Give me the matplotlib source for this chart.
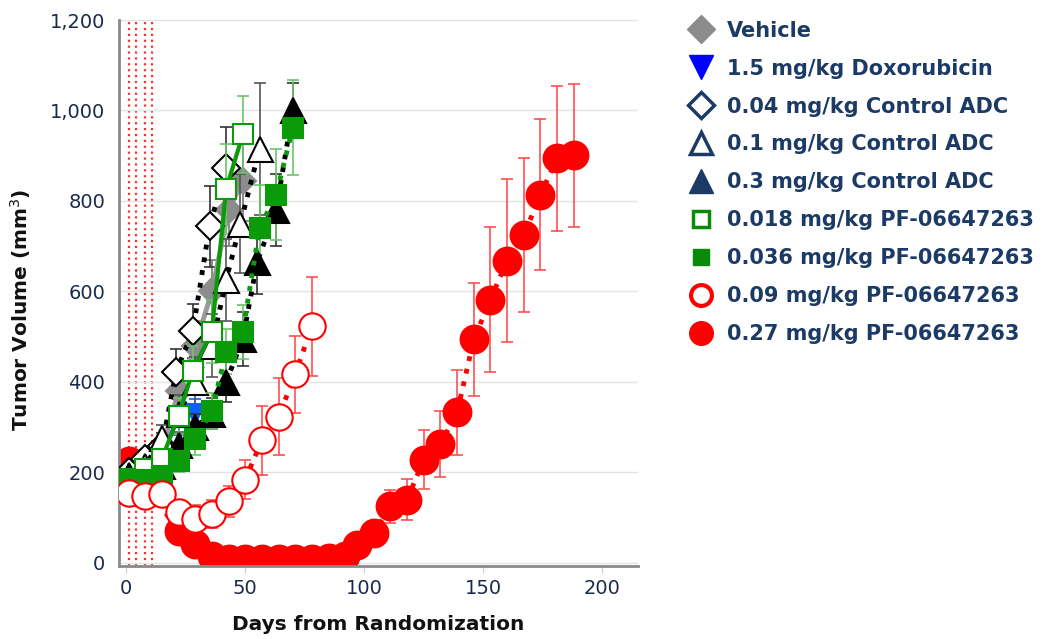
import numpy as np
import matplotlib
matplotlib.use('Agg')
import matplotlib.pyplot as plt
from matplotlib.lines import Line2D

# ============================================================
# DATA
# ============================================================
dose_days = [1, 4, 8, 11]

veh_days = [1, 8, 15, 22, 29, 36, 43, 49]
veh_vol = [190, 210, 250, 380, 480, 600, 780, 845]
veh_err = [15, 20, 30, 45, 55, 70, 80, 90]

dox_days = [1, 8, 15, 22, 29]
dox_vol = [190, 205, 240, 322, 328]
dox_err = [15, 20, 25, 40, 35]

c004_days = [1, 8, 15, 21, 28, 35, 42]
c004_vol = [200, 230, 258, 423, 512, 744, 873]
c004_err = [15, 20, 30, 50, 60, 90, 90]

c01_days = [1, 8, 15, 22, 29, 36, 42, 48, 56]
c01_vol = [195, 215, 275, 330, 400, 480, 625, 750, 915]
c01_err = [15, 20, 30, 40, 55, 70, 90, 110, 145]

c03_days = [1, 8, 15, 22, 29, 36, 42, 49, 55, 63, 70]
c03_vol = [190, 200, 215, 260, 300, 330, 400, 495, 665, 780, 1000]
c03_err = [15, 15, 20, 25, 30, 35, 45, 60, 70, 80, 60]

pf018_days = [1, 8, 15, 22, 28, 36, 42, 49]
pf018_vol = [185, 207, 230, 325, 425, 511, 827, 947]
pf018_err = [15, 20, 25, 40, 55, 70, 100, 85]

pf036_days = [1, 8, 15, 22, 29, 36, 42, 49, 56, 63, 70]
pf036_vol = [184, 184, 192, 225, 273, 336, 467, 511, 740, 814, 962]
pf036_err = [15, 15, 20, 25, 35, 40, 50, 60, 95, 100, 105]

pf09_days = [1, 8, 15, 22, 29, 36, 43, 50, 57, 64, 71, 78]
pf09_vol = [155, 148, 153, 112, 98, 108, 136, 184, 271, 323, 417, 523]
pf09_err = [15, 15, 20, 25, 30, 30, 35, 43, 76, 85, 85, 110]

pf27_days = [1, 22, 29, 36, 43, 50, 57, 64, 71, 78, 85, 92, 97, 104, 111,
             118, 125, 132, 139, 146, 153, 160, 167, 174, 181, 188]
pf27_vol = [225, 70, 42, 15, 8, 8, 8, 8, 8, 8, 10, 15, 40, 65, 125,
            140, 228, 263, 333, 494, 582, 668, 724, 814, 894, 901]
pf27_err = [12, 10, 8, 5, 3, 3, 3, 3, 3, 3, 3, 5, 8, 10, 36,
            45, 65, 73, 94, 125, 160, 180, 170, 167, 160, 158]

labels = ['Vehicle', '1.5 mg/kg Doxorubicin', '0.04 mg/kg Control ADC',
          '0.1 mg/kg Control ADC', '0.3 mg/kg Control ADC',
          '0.018 mg/kg PF-06647263', '0.036 mg/kg PF-06647263',
          '0.09 mg/kg PF-06647263', '0.27 mg/kg PF-06647263']

# ============================================================
# FIGURE
# ============================================================
plt.rcParams['font.family'] = ['DejaVu Sans']
fig = plt.figure(figsize=(10.46, 6.39), dpi=100)
ax = fig.add_axes([0.1138, 0.1142, 0.4962, 0.8545])

navy = '#1c3a66'
green = '#0a9a0a'
red = '#ff0000'


def series(x, y, e, zo, marker, ms, mfc, mec, ls, lc, lw, ecol, mew=1.5):
    ax.errorbar(x, y, yerr=e, fmt='none', ecolor=ecol, elinewidth=1.2,
                capsize=4, capthick=1.2, zorder=zo)
    ax.plot(x, y, linestyle=ls, color=lc, linewidth=lw, marker=marker,
            markersize=ms, markerfacecolor=mfc, markeredgecolor=mec,
            markeredgewidth=mew, zorder=zo + 0.5)


for d in dose_days:
    ax.axvline(d, color='#ff3030', linestyle=':', linewidth=1.6, zorder=0.5)

# filled red first (underneath)
series(pf27_days, pf27_vol, pf27_err, 2, 'o', 20, red, red, ':', red, 3.5,
       '#ff5050')
series(veh_days, veh_vol, veh_err, 3, 'D', 13, '#8c8c8c', '#8c8c8c', '-',
       '#9a9a9a', 3.5, '#777777')
series(dox_days, dox_vol, dox_err, 3.2, 'v', 15, '#1060ff', '#1060ff', '-',
       '#1060ff', 3, '#1060ff')
series(c004_days, c004_vol, c004_err, 3.4, 'D', 14, 'white', 'black', ':',
       'black', 3.5, '#333333')
series(c01_days, c01_vol, c01_err, 3.6, '^', 18, 'white', 'black', ':',
       'black', 3.5, '#555555')
series(c03_days, c03_vol, c03_err, 3.8, '^', 18, 'black', 'black', ':',
       'black', 3.5, '#333333')
series(pf018_days, pf018_vol, pf018_err, 4, 's', 14, 'white', green, '-',
       green, 3, '#6cc46c')
series(pf036_days, pf036_vol, pf036_err, 4.2, 's', 14, green, green, ':',
       green, 3.5, '#6cc46c')
series(pf09_days, pf09_vol, pf09_err, 5, 'o', 19, 'white', red, ':', red,
       3.5, '#ff5050')

ax.set_xlim(-3, 215)
ax.set_ylim(-7, 1200)
ax.set_xticks([0, 50, 100, 150, 200])
ax.set_yticks([0, 200, 400, 600, 800, 1000, 1200])
ax.set_yticklabels(['0', '200', '400', '600', '800', '1,000', '1,200'])
ax.grid(axis='y', color='#e4e4e4', linewidth=1)
ax.set_axisbelow(True)
for s in ['top', 'right']:
    ax.spines[s].set_visible(False)
for s in ['left', 'bottom']:
    ax.spines[s].set_color('#8a8a8a')
    ax.spines[s].set_linewidth(2)
ax.tick_params(axis='y', length=0, pad=10, labelsize=14, labelcolor='#1b2a4a')
ax.tick_params(axis='x', length=5, color='#cccccc', pad=4, labelsize=14,
               labelcolor='#1b2a4a')

ax.set_xlabel('Days from Randomization', fontsize=14.5, fontweight='bold',
              color='#111111')
ax.xaxis.set_label_coords(0.5, -0.09)
ax.set_ylabel('Tumor Volume (mm$^3$)', fontsize=14.5, fontweight='bold',
              color='#111111')
ax.yaxis.set_label_coords(-0.165, 0.47)

handles = [
    Line2D([], [], ls='none', marker='D', ms=14, mfc='#8c8c8c', mec='#8c8c8c'),
    Line2D([], [], ls='none', marker='v', ms=17, mfc='#0000ff', mec='#0000ff'),
    Line2D([], [], ls='none', marker='D', ms=13, mfc='white', mec=navy, mew=2.5),
    Line2D([], [], ls='none', marker='^', ms=16, mfc='white', mec=navy, mew=2.5),
    Line2D([], [], ls='none', marker='^', ms=17, mfc=navy, mec=navy),
    Line2D([], [], ls='none', marker='s', ms=11, mfc='white', mec='#0a8a0a', mew=2.5),
    Line2D([], [], ls='none', marker='s', ms=12, mfc='#0a8a0a', mec='#0a8a0a'),
    Line2D([], [], ls='none', marker='o', ms=15, mfc='white', mec=red, mew=3),
    Line2D([], [], ls='none', marker='o', ms=17, mfc=red, mec=red),
]
leg = fig.legend(handles, labels, loc='upper left',
                 bbox_to_anchor=(0.638, 0.997), frameon=False,
                 prop={'size': 15, 'weight': 'bold'},
                 handlelength=1.4, handletextpad=0.55, labelspacing=0.86)
for t in leg.get_texts():
    t.set_color(navy)

fig.savefig('out.png', dpi=100)
